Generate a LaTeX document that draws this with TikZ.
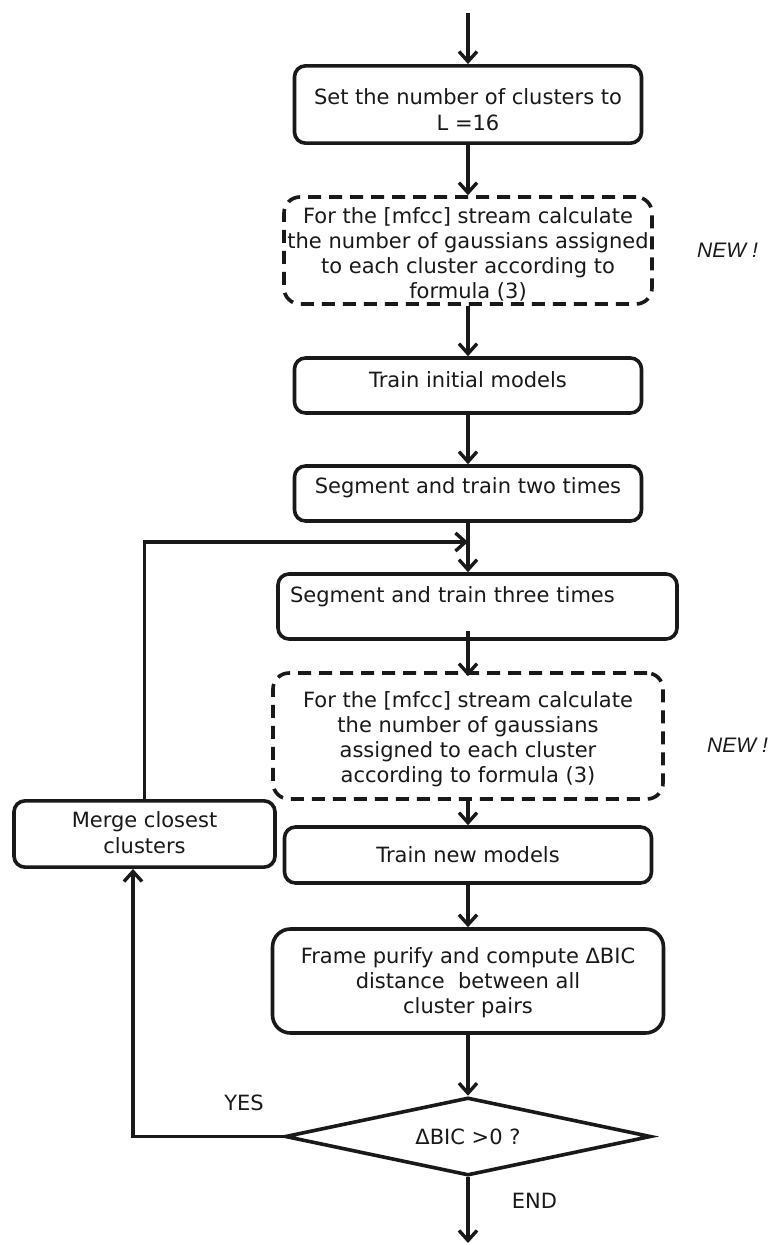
\documentclass[tikz,border=0pt]{standalone}
\usepackage{fontspec}
\setmainfont{DejaVu Sans}
\newfontfamily\labfont{Liberation Sans}
\usetikzlibrary{arrows.meta,shapes.geometric}
\newcommand\myTop[1]{\rule{0pt}{#1pt}}
\newcommand\myBot[1]{\rule[-#1pt]{0pt}{#1pt}}
\begin{document}
\begin{tikzpicture}[x=1pt,y=-1pt,
  every node/.style={font=\fontsize{21}{25.3}\selectfont, text=black!90},
  pbox/.style={draw=black!90, line width=3.6pt, rounded corners=11pt, inner xsep=3pt, inner ysep=0pt, align=center},
  dbox/.style={pbox, dash pattern=on 13pt off 8pt, rounded corners=16pt},
  arr/.style={draw=black!90, line width=3.4pt, -{Straight Barb[length=10pt,width=18pt]}},
  lbl/.style={anchor=base, inner sep=0pt},
  newlbl/.style={anchor=base west, inner sep=0pt, font=\labfont\itshape\fontsize{21}{24}\selectfont}
]
\fill[white] (0,0) rectangle (772,1245);
\useasboundingbox (0,0) rectangle (772,1245);

\node[pbox, minimum width=347pt, minimum height=77pt] (b1) at (468,104.5)
  {\myTop{39}Set the number of clusters to\\L =16\myBot{13}};
\node[dbox, minimum width=368pt, minimum height=107pt] (d1) at (468,250.5)
  {\myTop{26}For the [mfcc] stream calculate\\the number of gaussians assigned\\to each cluster according to\\formula (3)\myBot{5}};
\node[pbox, minimum width=347pt, minimum height=55pt] (b2) at (468,385.5)
  {\myTop{29}Train initial models\myBot{26}};
\node[pbox, minimum width=347pt, minimum height=55pt] (b3) at (468,493.5)
  {\myTop{27}Segment and train two times\myBot{28}};
\node[pbox, minimum width=399pt, minimum height=65pt, align=left, text width=375pt, inner xsep=12pt] (b4) at (477.5,606.5)
  {\myTop{28}Segment and train three times\myBot{37}};
\node[dbox, minimum width=390pt, minimum height=126pt] (d2) at (468,736)
  {\myTop{34}For the [mfcc] stream calculate\\the number of gaussians\\assigned to each cluster\\according to formula (3)\myBot{16}};
\node[pbox, minimum width=261pt, minimum height=66pt] (m) at (144.5,834)
  {\myTop{27}Merge closest\\clusters\myBot{14}};
\node[pbox, minimum width=367pt, minimum height=56pt] (b5) at (468,855)
  {\myTop{35}Train new models\myBot{21}};
\node[pbox, minimum width=391pt, minimum height=104pt, rounded corners=18pt] (b6) at (468,981)
  {\myTop{34}Frame purify and compute ΔBIC\\distance\ \ between all\\cluster pairs\myBot{19}};
\node[diamond, shape aspect=4.7, draw=black!90, line width=3.6pt, inner sep=0pt, minimum width=366pt, minimum height=78pt] (dm) at (468,1136.5)
  {ΔBIC >0 ?};

\coordinate (top) at (468,13);
\coordinate (j) at (468,542);
\coordinate (bot) at (468,1243);

\draw[arr] (top) -- (b1.north);
\draw[arr] (b1) -- (d1);
\draw[arr] (d1) -- (b2);
\draw[arr] (b2) -- (b3);
\draw[draw=black!90, line width=3.4pt] (b3.south) -- (j);
\draw[arr] (j) -- (j |- b4.north);
\draw[arr] (m.north) |- (j);
\draw[arr, shorten <=-10pt, shorten >=-5pt] (j |- b4.south) -- (d2.north);
\draw[arr] (d2) -- (b5);
\draw[arr] (b5) -- (b6);
\draw[arr] (b6) -- (dm);
\draw[arr] (dm.south) -- (bot);
\draw[arr] (dm.west) -| ([xshift=-11.5pt]m.south);

\node[lbl] (yes) at (244,1110) {YES};
\node[lbl] (endl) at (534.5,1208) {END};
\node[newlbl] (new1) at (697,257) {NEW !};
\node[newlbl] (new2) at (707,752) {NEW !};
\end{tikzpicture}
\end{document}
